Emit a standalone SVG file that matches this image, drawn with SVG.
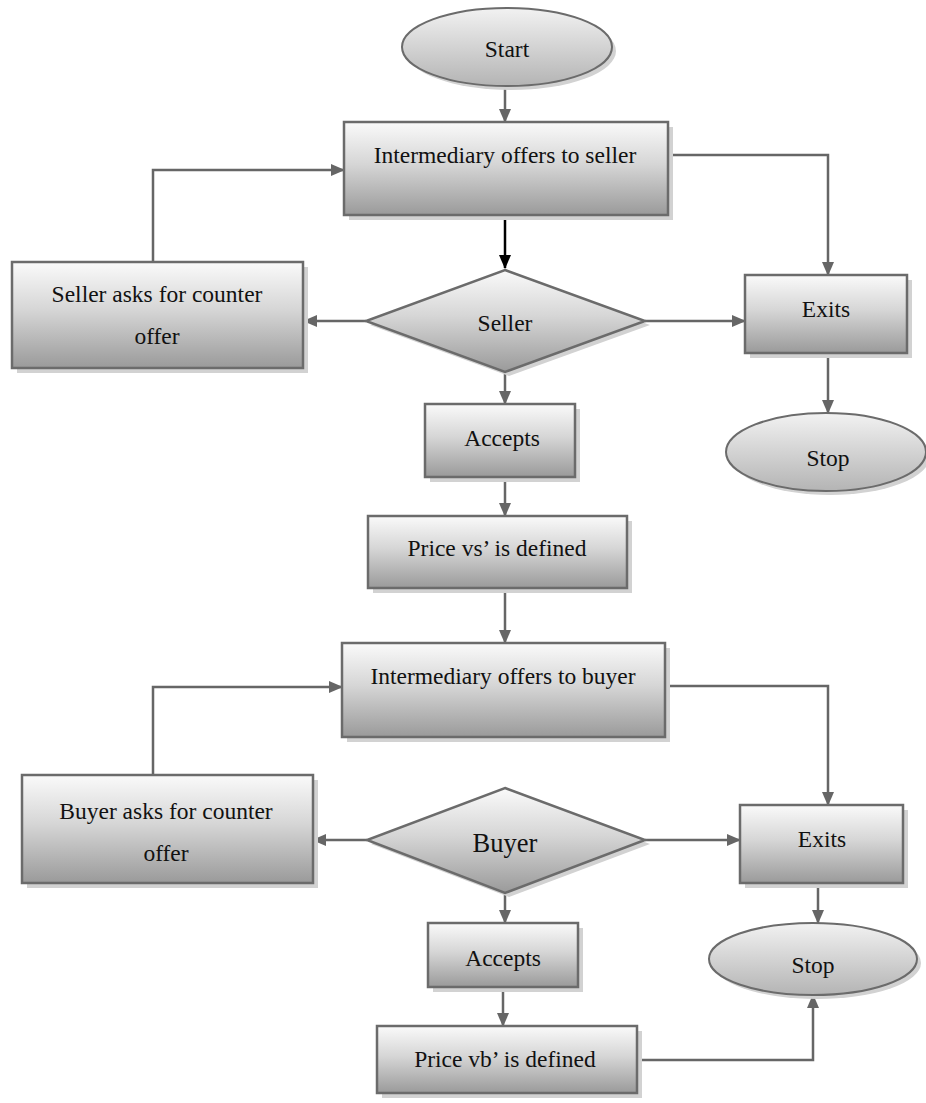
<svg xmlns="http://www.w3.org/2000/svg" width="926" height="1103" viewBox="0 0 926 1103">
<defs>
<linearGradient id="g" x1="0" y1="0" x2="0" y2="1">
<stop offset="0" stop-color="#fafafa"/>
<stop offset="0.45" stop-color="#d6d6d6"/>
<stop offset="1" stop-color="#9a9a9a"/>
</linearGradient>
<linearGradient id="ge" x1="0" y1="0" x2="0" y2="1">
<stop offset="0" stop-color="#f2f2f2"/>
<stop offset="1" stop-color="#b4b4b4"/>
</linearGradient>
<marker id="a" markerWidth="14" markerHeight="12" refX="13" refY="6" orient="auto" markerUnits="userSpaceOnUse">
<path d="M0,0 L14,6 L0,12 Z" fill="#666"/>
</marker>
<marker id="ab" markerWidth="14" markerHeight="12" refX="13" refY="6" orient="auto" markerUnits="userSpaceOnUse">
<path d="M0,0 L14,6 L0,12 Z" fill="#000"/>
</marker>
</defs>
<style>
.box{fill:url(#g);stroke:#6b6b6b;stroke-width:2.5}
.ell{fill:url(#ge);stroke:#6b6b6b;stroke-width:2}
.sh{fill:#d2d2d2}
.t{font-family:'Liberation Serif','Times New Roman',serif;font-size:23.5px;fill:#111;text-anchor:middle;dominant-baseline:central}
.c{fill:none;stroke:#666;stroke-width:2.5;marker-end:url(#a)}
</style>
<rect width="926" height="1103" fill="#fff"/>
<g id="connectors">
<path class="c" d="M505,87 V122"/>
<path class="c" d="M668,155 H828 V275"/>
<path d="M505,215 V268" fill="none" stroke="#000" stroke-width="2.5" marker-end="url(#ab)"/>
<path class="c" d="M366,321 H304"/>
<path class="c" d="M153,262 V170 H344"/>
<path class="c" d="M645,321 H745"/>
<path class="c" d="M505,370 V404"/>
<path class="c" d="M828,353 V413"/>
<path class="c" d="M505,477 V516"/>
<path class="c" d="M505,588 V643"/>
<path class="c" d="M153,775 V687 H342"/>
<path class="c" d="M665,686 H828 V805"/>
<path class="c" d="M367,840 H313"/>
<path class="c" d="M645,840 H740"/>
<path class="c" d="M505,893 V923"/>
<path class="c" d="M818,883 V923"/>
<path class="c" d="M503,987 V1026"/>
<path class="c" d="M637,1060 H813 V995"/>
</g>
<g id="start">
<ellipse class="sh" cx="511" cy="51" rx="105" ry="39"/>
<ellipse class="ell" cx="507" cy="47" rx="105" ry="39"/>
<text class="t" x="507" y="49">Start</text>
</g>
<g id="offer-seller">
<rect class="sh" x="349" y="127" width="324" height="93"/>
<rect class="box" x="344" y="122" width="324" height="93"/>
<text class="t" x="505" y="155">Intermediary offers to seller</text>
</g>
<g id="seller-counter">
<rect class="sh" x="17" y="267" width="291" height="106"/>
<rect class="box" x="12" y="262" width="291" height="106"/>
<text class="t" x="157" y="294">Seller asks for counter</text>
<text class="t" x="157" y="336">offer</text>
</g>
<g id="seller">
<polygon class="sh" points="509,274 650,325 509,376 370,325"/>
<polygon class="box" points="505,270 645,321 505,372 366,321"/>
<text class="t" x="505" y="323">Seller</text>
</g>
<g id="exits1">
<rect class="sh" x="750" y="280" width="162" height="78"/>
<rect class="box" x="745" y="275" width="162" height="78"/>
<text class="t" x="826" y="309">Exits</text>
</g>
<g id="stop1">
<ellipse class="sh" cx="830" cy="456" rx="100" ry="39"/>
<ellipse class="ell" cx="826" cy="452" rx="100" ry="39"/>
<text class="t" x="828" y="458">Stop</text>
</g>
<g id="accepts1">
<rect class="sh" x="430" y="409" width="150" height="73"/>
<rect class="box" x="425" y="404" width="150" height="73"/>
<text class="t" x="502" y="438">Accepts</text>
</g>
<g id="price-vs">
<rect class="sh" x="373" y="521" width="259" height="72"/>
<rect class="box" x="368" y="516" width="259" height="72"/>
<text class="t" x="497" y="548">Price vs’ is defined</text>
</g>
<g id="offer-buyer">
<rect class="sh" x="347" y="648" width="323" height="94"/>
<rect class="box" x="342" y="643" width="323" height="94"/>
<text class="t" x="503" y="676">Intermediary offers to buyer</text>
</g>
<g id="buyer-counter">
<rect class="sh" x="27" y="780" width="291" height="108"/>
<rect class="box" x="22" y="775" width="291" height="108"/>
<text class="t" x="166" y="811">Buyer asks for counter</text>
<text class="t" x="166" y="853">offer</text>
</g>
<g id="buyer">
<polygon class="sh" points="509,792 650,844 509,897 371,844"/>
<polygon class="box" points="505,788 645,840 505,893 367,840"/>
<text class="t" x="505" y="843" style="font-size:26.5px">Buyer</text>
</g>
<g id="exits2">
<rect class="sh" x="745" y="810" width="163" height="78"/>
<rect class="box" x="740" y="805" width="163" height="78"/>
<text class="t" x="822" y="839">Exits</text>
</g>
<g id="stop2">
<ellipse class="sh" cx="817" cy="963" rx="104" ry="36"/>
<ellipse class="ell" cx="813" cy="959" rx="104" ry="36"/>
<text class="t" x="813" y="965">Stop</text>
</g>
<g id="accepts2">
<rect class="sh" x="433" y="928" width="150" height="64"/>
<rect class="box" x="428" y="923" width="150" height="64"/>
<text class="t" x="503" y="958">Accepts</text>
</g>
<g id="price-vb">
<rect class="sh" x="382" y="1031" width="260" height="67"/>
<rect class="box" x="377" y="1026" width="260" height="67"/>
<text class="t" x="505" y="1059">Price vb’ is defined</text>
</g>
</svg>
